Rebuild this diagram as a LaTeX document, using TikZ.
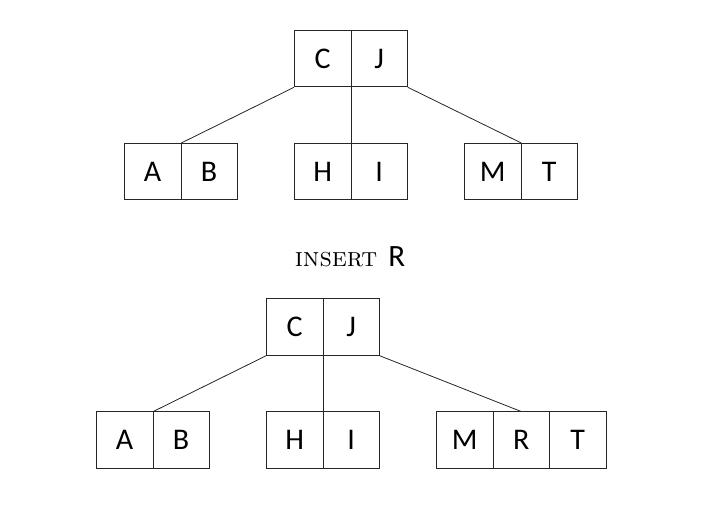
\documentclass[tikz,border=0pt]{standalone}
\usepackage{fontspec}
\newfontfamily\cellfont{Carlito}
\begin{document}
\begin{tikzpicture}[x=1pt,y=-1pt,
  cell/.style={draw=black!85,line width=0.8pt,minimum width=56.5pt,minimum height=56.5pt,inner sep=0pt,anchor=north west,font=\cellfont\fontsize{30}{30}\selectfont},
  link/.style={draw=black!85,line width=0.8pt}]
\useasboundingbox (0,0) rectangle (718,518);
% top tree
\node[cell] (r1a) at (294,30) {C};
\node[cell] (r1b) at (350.5,30) {J};
\node[cell] (a1a) at (124,143) {A};
\node[cell] (a1b) at (180.5,143) {B};
\node[cell] (h1a) at (294,143) {H};
\node[cell] (h1b) at (350.5,143) {I};
\node[cell] (m1a) at (464,143) {M};
\node[cell] (m1b) at (520.5,143) {T};
\draw[link] (r1a.south west) -- (a1a.north east);
\draw[link] (r1a.south east) -- (h1a.north east);
\draw[link] (r1b.south east) -- (m1a.north east);
% label
\node (lbl) at (350,257) {\fontsize{27}{27}\selectfont\textsc{insert}\hspace{11pt}{\cellfont\fontsize{31}{31}\selectfont R}};
% bottom tree
\node[cell] (r2a) at (266,298.5) {C};
\node[cell] (r2b) at (322.5,298.5) {J};
\node[cell] (a2a) at (96,411.5) {A};
\node[cell] (a2b) at (152.5,411.5) {B};
\node[cell] (h2a) at (266,411.5) {H};
\node[cell] (h2b) at (322.5,411.5) {I};
\node[cell] (m2a) at (436,411.5) {M};
\node[cell] (m2b) at (492.5,411.5) {R};
\node[cell] (m2c) at (549,411.5) {T};
\draw[link] (r2a.south west) -- (a2a.north east);
\draw[link] (r2a.south east) -- (h2a.north east);
\draw[link] (r2b.south east) -- (m2b.north);
\end{tikzpicture}
\end{document}
